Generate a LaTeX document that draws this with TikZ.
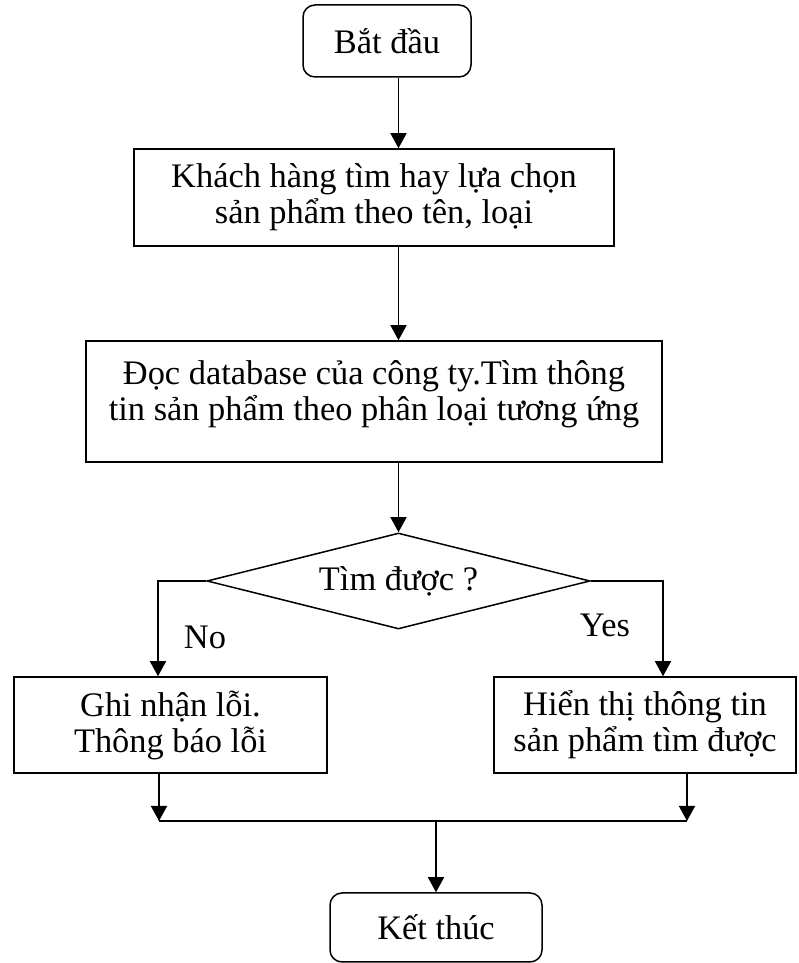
\documentclass[tikz,border=0pt]{standalone}
\usepackage{fontspec}
\setmainfont{Liberation Serif}
\usetikzlibrary{shapes.geometric,arrows.meta}
\begin{document}
\begin{tikzpicture}[x=1pt,y=1pt,
        every node/.style={font=\fontsize{34.4}{36}\selectfont},
        box/.style={draw,line width=1.5pt,align=center,inner sep=0pt},
        term/.style={box,rounded corners=12pt},
        arr/.style={line width=1.5pt,-{Triangle[length=15pt,width=16pt]}}]
                \path[fill=white,use as bounding box] (0,0) rectangle (798,963);

                \node[term,minimum width=168,minimum height=72] 
                    (start) at (387,922) {Bắt đầu};
                \node[box,minimum width=480,minimum height=97] 
                    (find) at (374,765.5) {Khách hàng tìm hay lựa chọn\\sản phẩm theo tên, loại};
                \node[box,minimum width=576,minimum height=121] 
                    (read) at (374,561.5) {Đọc database của công ty.Tìm thông\\tin sản phẩm theo phân loại tương ứng\\[-14pt]\mbox{}};
                \node[box,shape=diamond,shape aspect=4,minimum width=383,minimum height=96] 
                    (dec) at (398.5,382) {Tìm được ?};
                \node[box,minimum width=313,minimum height=96] 
                    (err) at (170.5,238) {Ghi nhận lỗi.\\Thông báo lỗi};
                \node[box,minimum width=302,minimum height=96] 
                    (show) at (645,238) {Hiển thị thông tin\\sản phẩm tìm được};
                \node[term,minimum width=212,minimum height=69] 
                    (stop) at (436,35.5) {Kết thúc};
                \node (no) at (205,326) {No};
                \node (yes) at (605,338) {Yes};

                \coordinate (mleft) at (159,142);
                \coordinate (mright) at (687,142);

                \draw[arr] (start.south -| dec.north) -- (find.north -| dec.north);
                \draw[arr] (find.south -| dec.north) -- (read.north -| dec.north);
                \draw[arr] (read.south -| dec.north) -- (dec.north);
                \draw[arr] (dec.west) -| ([xshift=-12.5pt]err.north);
                \draw[arr] (dec.east) -| ([xshift=18pt]show.north);
                \draw[arr] ([xshift=-11.5pt]err.south) -- (mleft);
                \draw[arr] ([xshift=42pt]show.south) -- (mright);
                \draw[line width=1.5pt] (mleft) -- (mright);
                \draw[arr] (stop.north |- mleft) -- (stop.north);
\end{tikzpicture}
\end{document}
